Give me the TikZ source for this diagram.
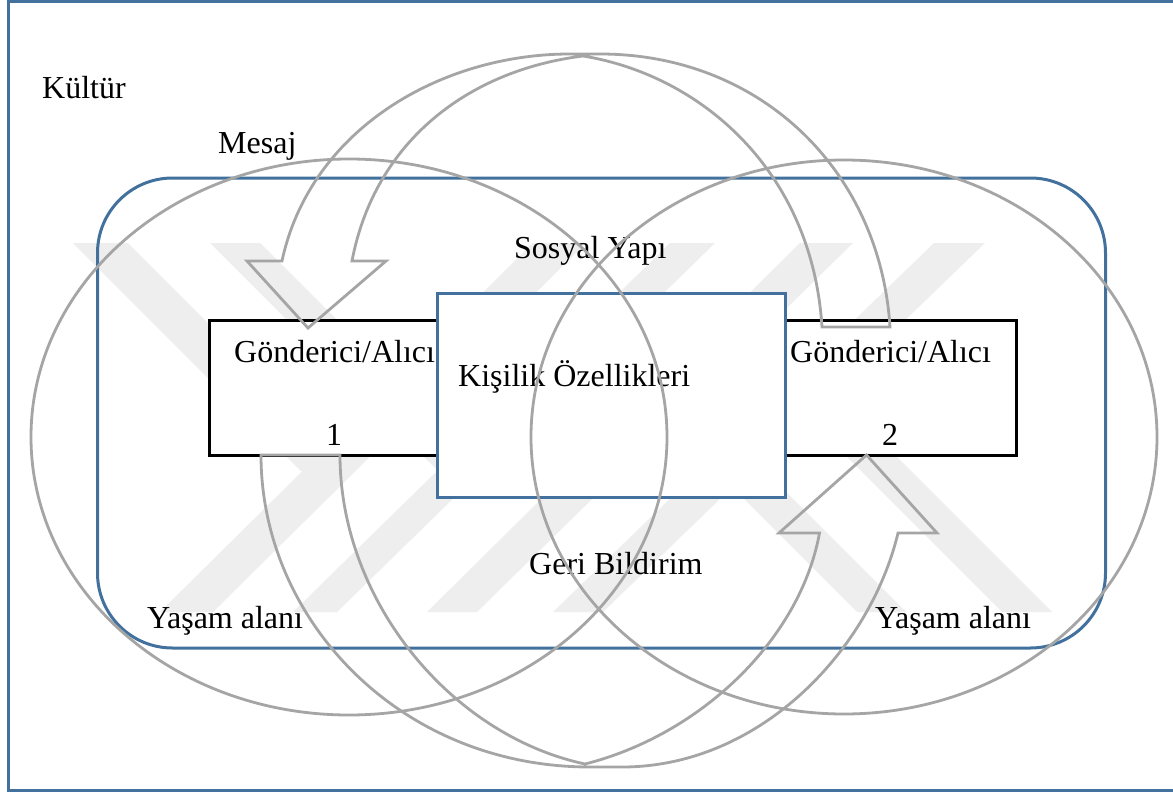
\documentclass[tikz,border=0pt]{standalone}
\usepackage{fontspec}
\setmainfont{Liberation Serif}
\usetikzlibrary{shapes.geometric}
\definecolor{frameblue}{HTML}{41719C}
\definecolor{arcgray}{HTML}{A5A5A5}
\definecolor{markgray}{HTML}{EEEEEE}
\tikzset{
  framebox/.style={draw=frameblue,line width=3pt,rectangle,inner sep=0pt},
  senderbox/.style={draw=black,line width=3pt,fill=white,rectangle,inner sep=0pt},
  coverbox/.style={draw=frameblue,line width=3pt,fill=white,rectangle,inner sep=0pt},
  lifefield/.style={draw=arcgray,line width=2.8pt,ellipse,inner sep=0pt},
  flowarrow/.style={draw=arcgray,line width=2.8pt,line join=miter},
  markband/.style={fill=markgray,draw=none},
  lbl/.style={anchor=base west,inner sep=0pt,font=\fontsize{32pt}{36pt}\selectfont,text=black}
}
\begin{document}
\begin{tikzpicture}[x=1pt,y=-1pt]
\clip (0,0) rectangle (1173,792);
\path[use as bounding box] (0,0) rectangle (1173,792);
\fill[white] (0,0) rectangle (1173,792);
% watermark
\fill[markband] (160,612) -- (213,612) -- (586,243) -- (533,243) -- cycle;
\fill[markband] (293,612) -- (337,612) -- (715,243) -- (670,243) -- cycle;
\fill[markband] (427,612) -- (477,612) -- (853,243) -- (800,243) -- cycle;
\fill[markband] (553,612) -- (603,612) -- (985,243) -- (934,243) -- cycle;
\fill[markband] (73,243) -- (128,243) -- (355,470) -- (301,471) -- cycle;
\fill[markband] (210,243) -- (260,243) -- (483,466) -- (436,469) -- cycle;
\fill[markband] (642,397) -- (691,397) -- (906,612) -- (857,612) -- cycle;
\fill[markband] (777,387) -- (827,387) -- (1052,612) -- (1002,612) -- cycle;
% frames
\node[framebox,minimum width=1200pt,minimum height=788pt] (culture) at (608,396) {};
\node[framebox,rounded corners=75pt,minimum width=1008pt,minimum height=470pt] (social) at (601.5,413) {};
\node[senderbox,minimum width=807pt,minimum height=135pt] (senders) at (612.5,387.5) {};
\node[coverbox,minimum width=348pt,minimum height=204pt] (person) at (611,395) {};
% labels
\node[lbl] (kultur) at (42,99) {Kültür};
\node[lbl] (mesaj) at (218,153) {Mesaj};
\node[lbl] (sosyal) at (514,258) {Sosyal Yapı};
\node[lbl] (g1) at (234,362) {Gönderici/Alıcı};
\node[lbl] (g2) at (790,362) {Gönderici/Alıcı};
\node[lbl] (kisilik) at (458,386) {Kişilik Özellikleri};
\node[lbl] (n1) at (326,445) {1};
\node[lbl] (n2) at (882,445) {2};
\node[lbl] (geri) at (529,574) {Geri Bildirim};
\node[lbl] (y1) at (147,628) {Yaşam alanı};
\node[lbl] (y2) at (875,628) {Yaşam alanı};
% life-space ellipses
\node[lifefield,minimum width=636pt,minimum height=556pt] (e1) at (349,437) {};
\node[lifefield,minimum width=626pt,minimum height=554pt] (e2) at (844,437) {};
% message arrow
\draw[flowarrow] (282,261) -- (247,261) -- (308,328) -- (386,261) -- (352,261)
  .. controls (375,140) and (470,70) .. (583,56)
  .. controls (700,75) and (812,170) .. (822,327)
  -- (890,327)
  .. controls (880,170) and (760,54) .. (600,54)
  -- (570,54)
  .. controls (440,54) and (310,130) .. (282,261) -- cycle;
% feedback arrow
\draw[flowarrow] (261,455) -- (340,455)
  .. controls (340,600) and (450,735) .. (585,764)
  .. controls (700,735) and (800,640) .. (819.5,533)
  -- (779,533) -- (866.5,455) -- (937,533) -- (898,533)
  .. controls (870,650) and (760,767) .. (622,767)
  -- (590,767)
  .. controls (400,767) and (261,620) .. (261,455) -- cycle;
\end{tikzpicture}
\end{document}
